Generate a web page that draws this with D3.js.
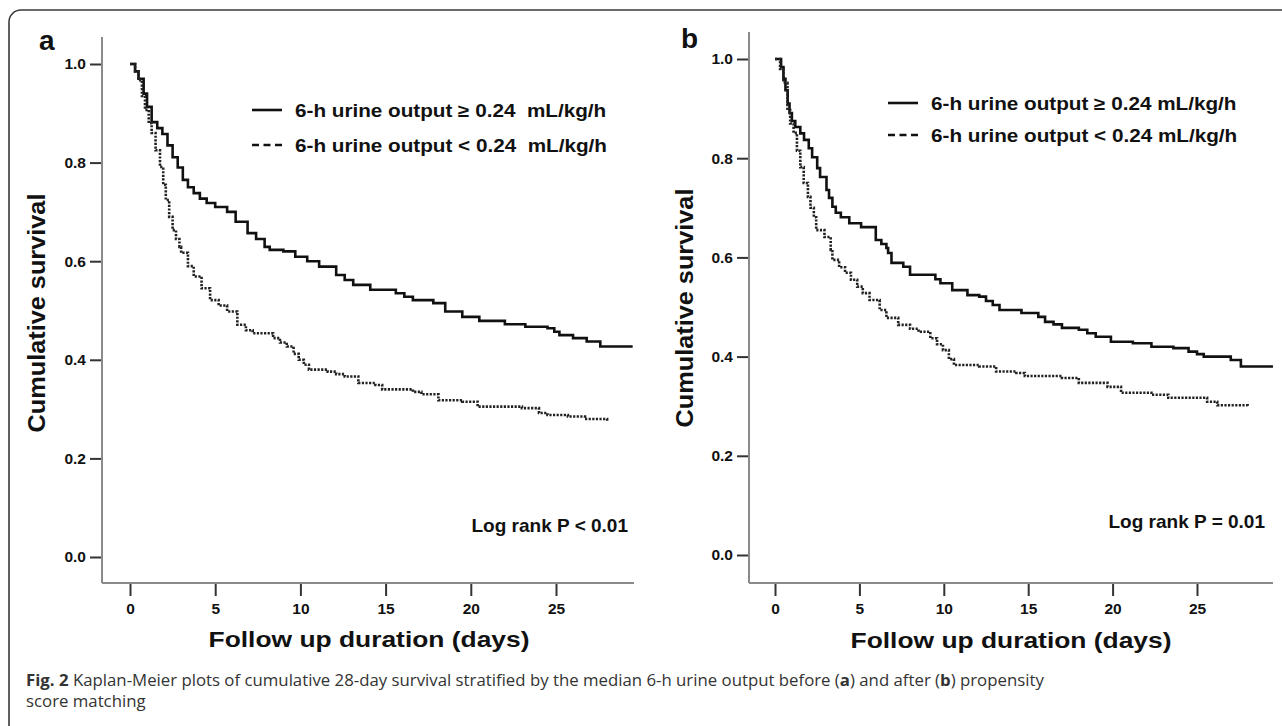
<!DOCTYPE html>
<html>
<head>
<meta charset="utf-8">
<script src="https://cdn.jsdelivr.net/npm/d3@7"></script>
<style>
  html, body { margin: 0; padding: 0; background: #fff; }
  svg { display: block; }
  text { font-family: "Liberation Sans", Arial, sans-serif; }
  .pre { white-space: pre; }
</style>
</head>
<body>
<svg id="chart" width="1282" height="726"></svg>
<script>
// ---------------- DATA ----------------
const xTicks = [0, 5, 10, 15, 20, 25];
const yTicks = [0.0, 0.2, 0.4, 0.6, 0.8, 1.0];
const panelLabels = ["a", "b"];
const legendLabelsA = ["6-h urine output \u2265 0.24  mL/kg/h", "6-h urine output < 0.24  mL/kg/h"];
const legendLabelsB = ["6-h urine output \u2265 0.24 mL/kg/h", "6-h urine output < 0.24 mL/kg/h"];
const logRankLabels = ["Log rank P < 0.01", "Log rank P = 0.01"];
const xAxisTitle = "Follow up duration (days)";
const yAxisTitle = "Cumulative survival";

// Panel a (before matching): [day, cumulative survival]
const aHigh = [[0,1.0],[0.3,0.985],[0.5,0.97],[0.8,0.94],[1.0,0.913],[1.27,0.882],[1.6,0.87],[1.9,0.858],[2.2,0.835],[2.5,0.811],[2.8,0.79],[3.1,0.765],[3.4,0.75],[3.74,0.738],[4.1,0.727],[4.5,0.718],[5.0,0.71],[5.7,0.70],[6.2,0.68],[6.9,0.657],[7.4,0.645],[7.9,0.629],[8.2,0.623],[9.0,0.62],[9.7,0.609],[10.4,0.60],[11.1,0.589],[12.1,0.572],[12.6,0.562],[13.1,0.552],[14.1,0.542],[15.6,0.535],[16.1,0.528],[16.6,0.521],[17.8,0.515],[18.5,0.498],[19.5,0.487],[20.5,0.479],[22.0,0.472],[23.2,0.467],[24.5,0.464],[24.9,0.457],[25.2,0.45],[26.0,0.444],[26.8,0.437],[27.6,0.427],[29.5,0.427]];
const aLow = [[0,1.0],[0.3,0.985],[0.5,0.967],[0.7,0.935],[0.88,0.907],[1.1,0.88],[1.27,0.86],[1.5,0.825],[1.76,0.791],[1.95,0.755],[2.1,0.724],[2.3,0.69],[2.5,0.663],[2.7,0.645],[2.9,0.629],[3.0,0.617],[3.4,0.59],[3.74,0.569],[4.2,0.545],[4.7,0.521],[5.2,0.51],[5.7,0.498],[6.3,0.471],[6.8,0.46],[7.2,0.454],[8.4,0.444],[8.8,0.435],[9.2,0.427],[9.6,0.412],[9.9,0.40],[10.2,0.39],[10.5,0.38],[11.6,0.376],[12.1,0.371],[12.6,0.366],[13.4,0.353],[14.4,0.349],[14.8,0.34],[16.6,0.335],[17.1,0.33],[18.1,0.318],[19.5,0.315],[20.4,0.305],[23.0,0.302],[24.0,0.292],[24.5,0.288],[25.7,0.285],[26.7,0.28],[28.0,0.275]];

// Panel b (after matching)
const bHigh = [[0,1.0],[0.36,0.984],[0.5,0.96],[0.62,0.937],[0.75,0.91],[0.86,0.891],[1.0,0.875],[1.2,0.863],[1.5,0.85],[1.72,0.837],[2.0,0.82],[2.2,0.802],[2.5,0.78],[2.67,0.762],[3.05,0.736],[3.2,0.72],[3.4,0.702],[3.6,0.69],[3.9,0.681],[4.4,0.669],[5.1,0.661],[5.7,0.661],[5.97,0.635],[6.3,0.627],[6.6,0.619],[6.7,0.609],[6.9,0.589],[7.6,0.581],[8.0,0.565],[9.2,0.565],[9.5,0.556],[9.8,0.548],[10.5,0.534],[11.4,0.524],[12.1,0.521],[12.5,0.512],[12.9,0.504],[13.3,0.494],[14.6,0.488],[15.6,0.48],[16.0,0.47],[16.5,0.465],[17.0,0.458],[18.0,0.454],[18.5,0.447],[19.0,0.44],[19.9,0.43],[21.2,0.427],[22.3,0.42],[23.6,0.417],[24.5,0.41],[25.0,0.405],[25.4,0.40],[27.0,0.393],[27.6,0.38],[29.5,0.38]];
const bLow = [[0,1.0],[0.3,0.98],[0.5,0.952],[0.74,0.897],[0.9,0.87],[1.1,0.851],[1.3,0.815],[1.5,0.782],[1.7,0.75],[1.95,0.722],[2.1,0.70],[2.3,0.681],[2.44,0.655],[2.93,0.641],[3.3,0.615],[3.4,0.595],[3.8,0.58],[4.15,0.569],[4.5,0.555],[4.87,0.541],[5.2,0.528],[5.6,0.514],[6.2,0.494],[6.6,0.478],[7.3,0.464],[8.0,0.456],[8.5,0.45],[9.2,0.437],[9.6,0.425],[9.95,0.413],[10.3,0.395],[10.6,0.383],[12.1,0.38],[13.1,0.37],[14.3,0.367],[14.8,0.361],[17.0,0.357],[18.0,0.347],[19.7,0.339],[20.5,0.327],[22.3,0.323],[23.3,0.317],[25.6,0.309],[26.2,0.302],[28.0,0.299]];

// ---------------- DRAW ----------------
const svg = d3.select("#chart");

// outer frame (rounded top-left corner)
svg.append("rect").attr("x", 9).attr("y", 10).attr("width", 1300).attr("height", 740)
  .attr("rx", 12).attr("fill", "none").attr("stroke", "#3a3a3a").attr("stroke-width", 1.6);

function scaledText(g, x, y, txt, opts) {
  const t = g.append("text")
    .attr("class", "pre")
    .attr("transform", `translate(${x},${y})` + (opts.rotate ? ` rotate(${opts.rotate})` : "") + ` scale(${opts.sx || 1},1)`)
    .attr("text-anchor", opts.anchor || "start")
    .attr("font-size", opts.size)
    .attr("font-weight", opts.weight || "bold")
    .attr("fill", opts.fill || "#111")
    .text(txt);
  return t;
}

const panels = [
  { label: panelLabels[0], high: aHigh, low: aLow, legend: legendLabelsA, logrank: logRankLabels[0],
    x0: 130, x25: 556, y1: 64, y0: 557, axisX: 102, axisTop: 37, axisY: 583, axisRight: 634,
    lab: [39, 50], legX: 252, legY: [110, 145], legTx: 295, legSx: 1.15,
    lrX: 628, lrY: 532, xtX: 369, xtY: 647, ytX: 45, ytY: 313 },
  { label: panelLabels[1], high: bHigh, low: bLow, legend: legendLabelsB, logrank: logRankLabels[1],
    x0: 775, x25: 1197, y1: 59, y0: 555, axisX: 749, axisTop: 32, axisY: 583, axisRight: 1273,
    lab: [681, 48], legX: 888, legY: [103, 135], legTx: 931, legSx: 1.15,
    lrX: 1265, lrY: 528, xtX: 1011, xtY: 648, ytX: 693, ytY: 308 }
];

panels.forEach(p => {
  const g = svg.append("g");
  const x = d3.scaleLinear().domain([0, 25]).range([p.x0, p.x25]);
  const y = d3.scaleLinear().domain([0, 1]).range([p.y0, p.y1]);

  // axis lines (gray)
  g.append("line").attr("x1", p.axisX).attr("x2", p.axisX).attr("y1", p.axisTop).attr("y2", p.axisY)
    .attr("stroke", "#8a8a8a").attr("stroke-width", 2);
  g.append("line").attr("x1", p.axisX).attr("x2", p.axisRight).attr("y1", p.axisY).attr("y2", p.axisY)
    .attr("stroke", "#8a8a8a").attr("stroke-width", 2);

  // y axis
  const ya = g.append("g").attr("transform", `translate(${p.axisX - 1},0)`)
    .call(d3.axisLeft(y).tickValues(yTicks).tickFormat(d3.format(".1f")).tickSize(11).tickPadding(4));
  ya.select(".domain").remove();
  ya.selectAll(".tick line").attr("stroke", "#333").attr("stroke-width", 2);
  ya.selectAll(".tick text").attr("font-family", "Liberation Sans, Arial, sans-serif")
    .attr("font-size", 15.5).attr("font-weight", "bold").attr("fill", "#111");

  // x axis
  const xa = g.append("g").attr("transform", `translate(0,${p.axisY + 1})`)
    .call(d3.axisBottom(x).tickValues(xTicks).tickSize(12).tickPadding(7));
  xa.select(".domain").remove();
  xa.selectAll(".tick line").attr("stroke", "#333").attr("stroke-width", 2);
  xa.selectAll(".tick text").attr("font-family", "Liberation Sans, Arial, sans-serif")
    .attr("font-size", 15.5).attr("font-weight", "bold").attr("fill", "#111");

  // curves
  const line = d3.line().x(d => x(d[0])).y(d => y(d[1])).curve(d3.curveStepAfter);
  g.append("path").datum(p.high).attr("d", line).attr("fill", "none")
    .attr("stroke", "#111").attr("stroke-width", 2.6);
  g.append("path").datum(p.low).attr("d", line).attr("fill", "none")
    .attr("stroke", "#222").attr("stroke-width", 2.6).attr("stroke-dasharray", "2.2,1.4");

  // panel label
  scaledText(g, p.lab[0], p.lab[1], p.label, { size: 28 });

  // legend
  g.append("line").attr("x1", p.legX).attr("x2", p.legX + 30).attr("y1", p.legY[0]).attr("y2", p.legY[0])
    .attr("stroke", "#111").attr("stroke-width", 2.6);
  g.append("line").attr("x1", p.legX).attr("x2", p.legX + 30).attr("y1", p.legY[1]).attr("y2", p.legY[1])
    .attr("stroke", "#111").attr("stroke-width", 2.6).attr("stroke-dasharray", "7,4.5");
  scaledText(g, p.legTx, p.legY[0] + 6.5, p.legend[0], { size: 18, sx: p.legSx });
  scaledText(g, p.legTx, p.legY[1] + 6.5, p.legend[1], { size: 18, sx: p.legSx });

  // log rank
  scaledText(g, p.lrX, p.lrY, p.logrank, { size: 19, anchor: "end" });

  // axis titles
  scaledText(g, p.xtX, p.xtY, xAxisTitle, { size: 22, anchor: "middle", sx: 1.2 });
  scaledText(g, p.ytX, p.ytY, yAxisTitle, { size: 23, anchor: "middle", rotate: -90, sx: 1.1 });
});

// caption
const cap = svg.append("g").attr("font-size", 16.8).attr("fill", "#333");
const l1 = cap.append("text").attr("x", 26).attr("y", 686).style("font-family", "'Open Sans', 'Noto Sans', sans-serif");
l1.append("tspan").attr("font-weight", "bold").text("Fig. 2");
l1.append("tspan").text(" Kaplan-Meier plots of cumulative 28-day survival stratified by the median 6-h urine output before (");
l1.append("tspan").attr("font-weight", "bold").text("a");
l1.append("tspan").text(") and after (");
l1.append("tspan").attr("font-weight", "bold").text("b");
l1.append("tspan").text(") propensity");
cap.append("text").attr("x", 26).attr("y", 707).style("font-family", "'Open Sans', 'Noto Sans', sans-serif").text("score matching");
</script>
</body>
</html>
